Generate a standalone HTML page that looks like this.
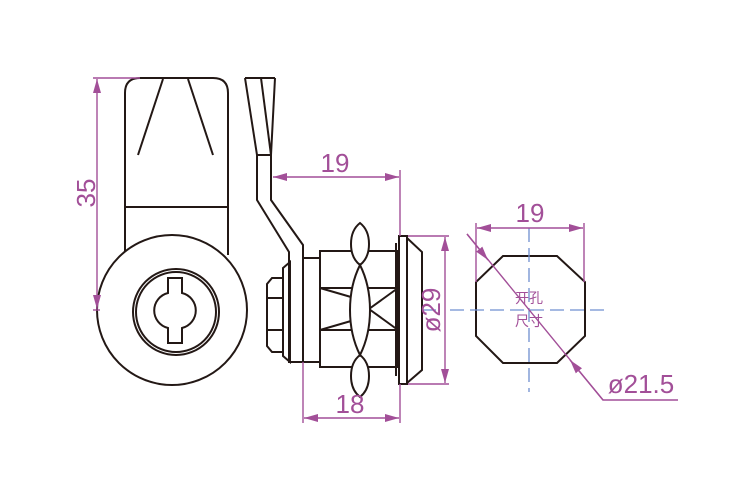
<!DOCTYPE html><html><head><style>body{margin:0;background:#fff}svg{display:block}</style></head><body>
<svg width="750" height="500" viewBox="0 0 750 500" xmlns="http://www.w3.org/2000/svg" font-family="Liberation Sans, sans-serif">
<defs>
<marker id="a" viewBox="0 0 14 8" refX="14" refY="4" markerWidth="14" markerHeight="8" orient="auto-start-reverse" markerUnits="userSpaceOnUse"><path d="M0,0L14,4L0,8z" fill="#a24f98"/></marker>
</defs>
<g fill="none" stroke="#231815" stroke-width="2">
<path d="M125,255V93Q125,78 140,78H213Q228,78 228,93V255"/>
<line x1="125" y1="207" x2="228" y2="207"/>
<line x1="163" y1="79" x2="138" y2="155"/>
<line x1="188" y1="79" x2="213" y2="155"/>
<circle cx="172" cy="310" r="75" fill="#fff"/>
<circle cx="176" cy="312" r="43"/>
<circle cx="176" cy="312" r="40"/>
<path d="M168,278H182V293A18,18 0 0 1 182,328V343H168V328A18,18 0 0 1 168,293Z"/>
<path d="M245,78H275"/>
<path d="M245,78L257,155V200L289,252V362H303"/>
<path d="M275,78L271,155V200L303,245V258"/>
<path d="M261,78L271,155"/>
<line x1="257" y1="155" x2="271" y2="155"/>
<rect x="303" y="258" width="17" height="104"/>
<path d="M283,268L290,262V362L283,356Z"/>
<path d="M267,284L272,278H283V352H272L267,346Z"/>
<line x1="267" y1="298" x2="283" y2="298"/>
<line x1="267" y1="330" x2="283" y2="330"/>
<rect x="320" y="251" width="78" height="116"/>
<line x1="320" y1="288" x2="398" y2="288"/>
<line x1="320" y1="330" x2="398" y2="330"/>
<path d="M320,288L351,297M320,330L351,321M398,288L369,309L398,330"/>
<path d="M360,223Q351,230 351,244Q351,258 360,265Q369,258 369,244Q369,230 360,223Z" fill="#fff"/>
<path d="M360,355Q351,362 351,376Q351,390 360,397Q369,390 369,376Q369,362 360,355Z" fill="#fff"/>
<path d="M360,265Q350,285 350,310Q350,335 360,355Q370,335 370,310Q370,285 360,265Z" fill="#fff"/>
<line x1="396" y1="243" x2="396" y2="376"/>
<rect x="399" y="236" width="8" height="148"/>
<path d="M407,238L422,252V370L407,383"/>
<path d="M503,256H557L585,282V336L557,363H503L476,336V282Z"/>
</g>
<g stroke="#6f8fd0" stroke-width="1.3" stroke-dasharray="14,6" fill="none">
<line x1="529" y1="228" x2="529" y2="392"/>
<line x1="450" y1="310" x2="606" y2="310"/>
</g>
<line x1="422" y1="310" x2="436" y2="310" stroke="#6f8fd0" stroke-width="1.3"/>
<g stroke="#a24f98" stroke-width="1.4" fill="none">
<line x1="93" y1="78" x2="140" y2="78"/>
<line x1="93" y1="310" x2="100" y2="310"/>
<line x1="97" y1="79" x2="97" y2="309" marker-start="url(#a)" marker-end="url(#a)"/>
<line x1="400" y1="170" x2="400" y2="236"/>
<line x1="273" y1="177" x2="399" y2="177" marker-start="url(#a)" marker-end="url(#a)"/>
<line x1="408" y1="236" x2="449" y2="236"/>
<line x1="408" y1="384" x2="449" y2="384"/>
<line x1="445" y1="237" x2="445" y2="383" marker-start="url(#a)" marker-end="url(#a)"/>
<line x1="303" y1="362" x2="303" y2="423"/>
<line x1="400" y1="384" x2="400" y2="423"/>
<line x1="304" y1="418" x2="399" y2="418" marker-start="url(#a)" marker-end="url(#a)"/>
<line x1="476" y1="223" x2="476" y2="282"/>
<line x1="584" y1="223" x2="584" y2="282"/>
<line x1="477" y1="228" x2="583" y2="228" marker-start="url(#a)" marker-end="url(#a)"/>
<path d="M467,234L603,400H678"/>
<line x1="467" y1="234" x2="488" y2="260" marker-end="url(#a)"/>
<line x1="603" y1="400" x2="570" y2="360" marker-end="url(#a)"/>
</g>
<g fill="#a24f98" font-size="26">
<text x="335" y="172" text-anchor="middle">19</text>
<text x="350" y="413" text-anchor="middle">18</text>
<text x="530" y="222" text-anchor="middle">19</text>
<text x="641" y="393" text-anchor="middle">ø21.5</text>
<text transform="translate(95,193) rotate(-90)" text-anchor="middle">35</text>
<text transform="translate(440,310) rotate(-90)" text-anchor="middle">ø29</text>
<g font-family="Liberation Sans, 'Noto Sans CJK SC', sans-serif" font-size="14">
<text x="529" y="303" text-anchor="middle">开孔</text>
<text x="529" y="326" text-anchor="middle">尺寸</text>
</g>
</g>
</svg>
</body></html>
